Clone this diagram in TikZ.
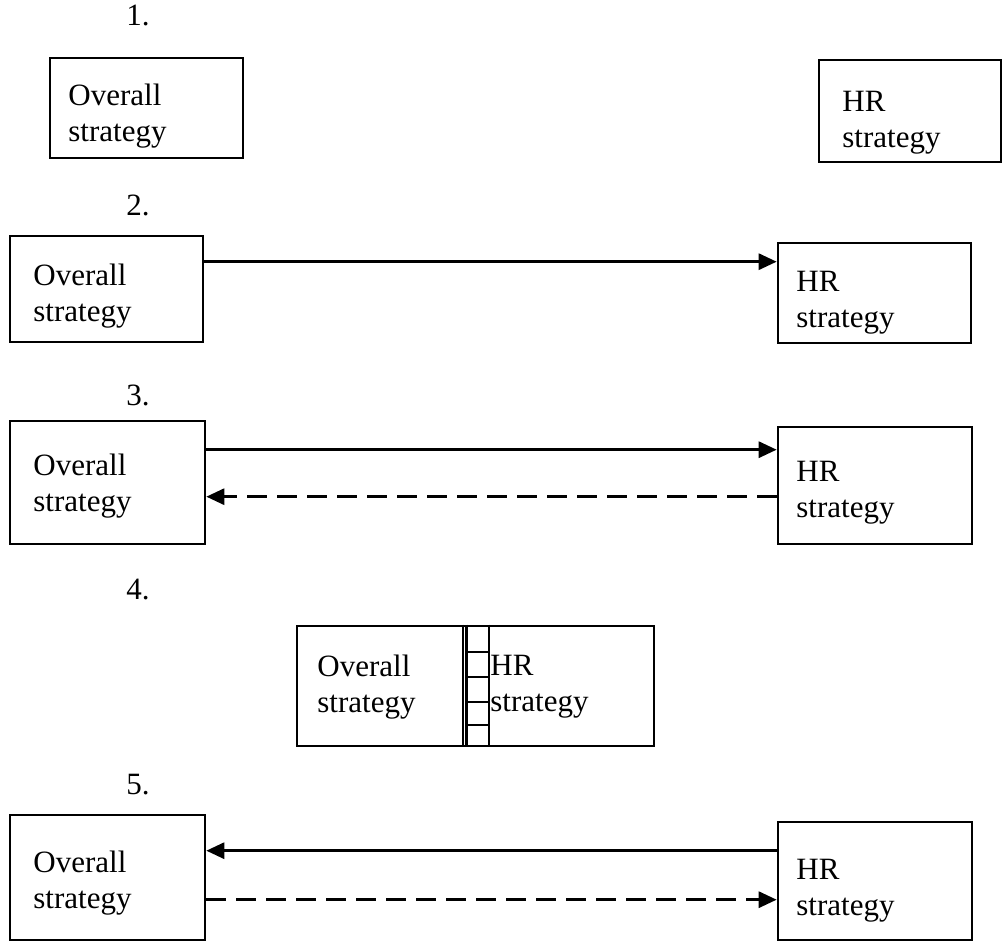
\documentclass[tikz,border=0pt]{standalone}
\usepackage{fontspec}
\setmainfont{Liberation Serif}
\usetikzlibrary{fit,arrows.meta}
\begin{document}
\begin{tikzpicture}[x=0.5pt,y=-0.5pt,
  box/.style={draw,line width=1.3pt,inner sep=0pt},
  txt/.style={anchor=west,align=left,inner sep=0pt,font=\fontsize{15.5}{18}\selectfont},
  num/.style={inner sep=0pt,font=\fontsize{15.5}{18}\selectfont},
  arr/.style={line width=1.5pt,-{Triangle[length=9pt,width=8pt]}},
  darr/.style={arr,dash pattern=on 10pt off 5pt}]
\useasboundingbox (0,0) rectangle (1003,945);
% 1
\node[num] (n1) at (138,15) {1.};
\node[box,fit={(50,58) (243,158)}] (o1) {};
\node[txt] (to1) at (68,116) {Overall\\strategy};
\node[box,fit={(819,60) (1001,162)}] (h1) {};
\node[txt] (th1) at (842,123) {HR\\strategy};
% 2
\node[num] (n2) at (138,205) {2.};
\node[box,fit={(10,236) (203,342)}] (o2) {};
\node[txt] (to2) at (33,296) {Overall\\strategy};
\node[box,fit={(778,243) (971,343)}] (h2) {};
\node[txt] (th2) at (796,303) {HR\\strategy};
\draw[arr] (o2.north east) ++(0,27) coordinate (a2) -- (a2 -| h2.west);
% 3
\node[num] (n3) at (138,395) {3.};
\node[box,fit={(10,421) (205,544)}] (o3) {};
\node[txt] (to3) at (33,486) {Overall\\strategy};
\node[box,fit={(778,427) (972,544)}] (h3) {};
\node[txt] (th3) at (796,493) {HR\\strategy};
\draw[arr] (o3.north east) ++(0,30) coordinate (a3) -- (a3 -| h3.west);
\draw[darr] (h3.north west) ++(0,71) coordinate (b3) -- (b3 -| o3.east);
% 4
\node[num] (n4) at (138,590) {4.};
\node[box,fit={(297,626) (654,746)}] (b4) {};
\node[txt] (to4) at (317,687) {Overall\\strategy};
\node[txt] (th4) at (490,687) {HR\\strategy};
\draw[line width=1.3pt] (463,0 |- b4.north) -- (463,0 |- b4.south)
  (466.5,0 |- b4.north) -- (466.5,0 |- b4.south)
  (489,0 |- b4.north) -- (489,0 |- b4.south);
\foreach \yy in {652,677,702,725}
  \draw[line width=1.3pt] (466.5,\yy) -- (489,\yy);
% 5
\node[num] (n5) at (138,785) {5.};
\node[box,fit={(10,815) (205,940)}] (o5) {};
\node[txt] (to5) at (33,883) {Overall\\strategy};
\node[box,fit={(778,822) (972,940)}] (h5) {};
\node[txt] (th5) at (796,891) {HR\\strategy};
\draw[arr] (h5.north west) ++(0,30) coordinate (a5) -- (a5 -| o5.east);
\draw[darr] (o5.north east) ++(0,86) coordinate (b5) -- (b5 -| h5.west);
\end{tikzpicture}
\end{document}
